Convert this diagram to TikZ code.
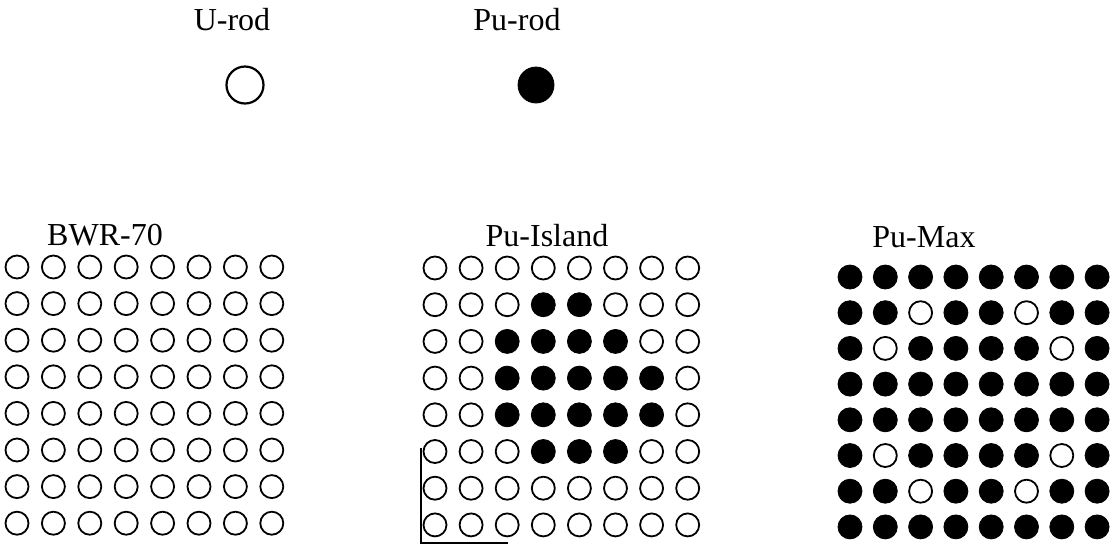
\documentclass[tikz,border=0pt]{standalone}
\usepackage{fontspec}
\setmainfont{Liberation Serif}
\usetikzlibrary{positioning}
\tikzset{
  %% fuel rods
  rod0/.style={circle, draw, line width=0.9pt, minimum size=11.5pt, inner sep=0pt},
  rod1/.style={circle, draw, fill, line width=0.4pt, minimum size=12pt, inner sep=0pt},
  %% legend rods
  legU/.style={circle, draw, line width=1.1pt, minimum size=18.5pt, inner sep=0pt},
  legPu/.style={circle, draw, fill, line width=0.4pt, minimum size=18pt, inner sep=0pt},
  %% titles
  ttl/.style={font=\fontsize{16}{19}\selectfont, anchor=base, inner sep=0pt},
}

\begin{document}
\begin{tikzpicture}[x=0.5pt, y=-0.5pt]
\useasboundingbox (0,0) rectangle (1116,548);

%% legend
\node[ttl] (tU)  at (232,30) {U-rod};
\node[ttl] (tPu) at (517,30) {Pu-rod};
\node[legU]  (lU)  at (245,85) {};
\node[legPu] (lPu) at (536,85) {};

%% titles of the bundles
\node[ttl] (tBWR) at (105,245) {BWR-70};
\node[ttl] (tIsl) at (547,246) {Pu-Island};
\node[ttl] (tMax) at (924,247) {Pu-Max};

%% BWR-70
\foreach \r in {1,...,8}
  \foreach \c in {1,...,8}
    \node[rod0] (bwr-\r-\c) at ({17+36.4*(\c-1)},{267+36.6*(\r-1)}) {};

%% Pu-Island
\foreach \row [count=\r] in {{0,0,0,0,0,0,0,0},{0,0,0,1,1,0,0,0},{0,0,1,1,1,1,0,0},
    {0,0,1,1,1,1,1,0},{0,0,1,1,1,1,1,0},{0,0,0,1,1,1,0,0},{0,0,0,0,0,0,0,0},{0,0,0,0,0,0,0,0}}
  \foreach \v [count=\c] in \row
    \node[rod\v] (isl-\r-\c) at ({435+36.1*(\c-1)},{268+36.7*(\r-1)}) {};

%% Pu-Max
\foreach \row [count=\r] in {{1,1,1,1,1,1,1,1},{1,1,0,1,1,0,1,1},{1,0,1,1,1,1,0,1},
    {1,1,1,1,1,1,1,1},{1,1,1,1,1,1,1,1},{1,0,1,1,1,1,0,1},{1,1,0,1,1,0,1,1},{1,1,1,1,1,1,1,1}}
  \foreach \v [count=\c] in \row
    \node[rod\v] (max-\r-\c) at ({850+35.3*(\c-1)},{277+35.7*(\r-1)}) {};

%% corner mark
\coordinate (cTop)   at (421,448);
\coordinate (cLeft)  at (421,543);
\coordinate (cRight) at (508,543);
\draw[line width=0.8pt] (cTop) -- (cLeft) -- (cRight);
\end{tikzpicture}
\end{document}
